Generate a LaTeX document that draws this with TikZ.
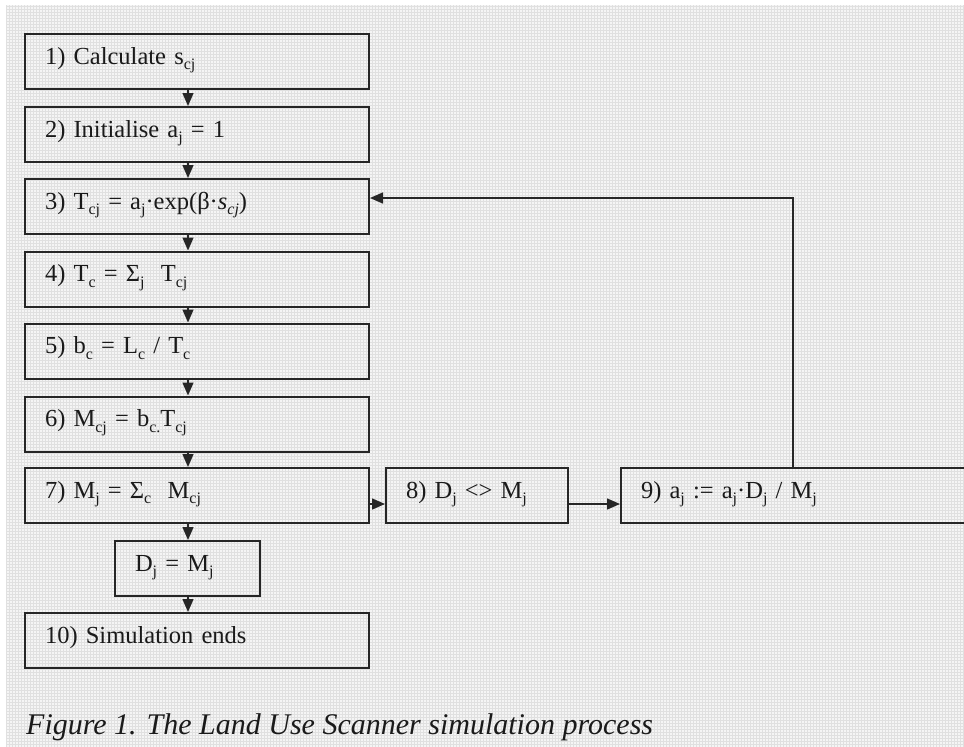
\documentclass[tikz,border=0pt]{standalone}
\usepackage{fontspec}
\setmainfont{Liberation Serif}
\usetikzlibrary{arrows.meta}
\definecolor{ink}{HTML}{262626}
\definecolor{txt}{HTML}{1A1A1A}
\newcommand\subs[1]{\raisebox{-0.24em}{\fontsize{16pt}{16pt}\selectfont #1}}
\begin{document}
\begin{tikzpicture}[x=1pt,y=-1pt,
  box/.style={draw=ink, line width=2pt, minimum height=55pt, inner xsep=20pt, inner ysep=0pt,
    text height=0.75em, text depth=0.23em, align=left, text=txt,
    font=\fontsize{24.5pt}{24.5pt}\selectfont},
  arr/.style={draw=ink, line width=1.5pt, -{Triangle[length=13pt,width=11pt]}}]
\useasboundingbox (0,0) rectangle (964,747);
\clip (0,0) rectangle (964,747);
\fill[white] (0,0) rectangle (964,747);
\fill[gray!8] (6,5) rectangle (964,747);
\draw[gray!24, line width=0.5pt, step=3pt] (6,5) grid (964,747);
\node[box, text width=304pt] (b1) at (197,61.5) {1) Calculate s\subs{cj}};
\node[box, text width=304pt] (b2) at (197,134.5) {2) Initialise a\subs{j} = 1};
\node[box, text width=304pt] (b3) at (197,206.5) {3) T\subs{cj} = a\subs{j}·exp(β·\textit{s\subs{cj}})};
\node[box, text width=304pt] (b4) at (197,279) {4) T\subs{c} = Σ\subs{j}\ \ T\subs{cj}};
\node[box, text width=304pt] (b5) at (197,351) {5) b\subs{c} = L\subs{c} / T\subs{c}};
\node[box, text width=304pt] (b6) at (197,424) {6) M\subs{cj} = b\subs{c.}T\subs{cj}};
\node[box, text width=304pt] (b7) at (197,495.5) {7) M\subs{j} = Σ\subs{c}\ \ M\subs{cj}};
\node[box, text width=105pt] (bd) at (187.5,568.5) {D\subs{j} = M\subs{j}};
\node[box, text width=304pt] (b10) at (197,640.5) {10) Simulation ends};
\node[box, text width=142pt] (b8) at (477,495.5) {8) D\subs{j} <> M\subs{j}};
\node[box, text width=339pt] (b9) at (810.5,495.5) {9) a\subs{j} := a\subs{j}·D\subs{j} / M\subs{j}};
\coordinate (ax) at (188,0);
\coordinate (h) at (0,504);
\coordinate (fb) at (793,198);
\draw[arr] (b1.south -| ax) -- (b2.north -| ax);
\draw[arr] (b2.south -| ax) -- (b3.north -| ax);
\draw[arr] (b3.south -| ax) -- (b4.north -| ax);
\draw[arr] (b4.south -| ax) -- (b5.north -| ax);
\draw[arr] (b5.south -| ax) -- (b6.north -| ax);
\draw[arr] (b6.south -| ax) -- (b7.north -| ax);
\draw[arr] (b7.south -| ax) -- (bd.north -| ax);
\draw[arr] (bd.south -| ax) -- (b10.north -| ax);
\draw[arr] (b7.east |- h) -- (b8.west |- h);
\draw[arr] (b8.east |- h) -- (b9.west |- h);
\draw[arr] (b9.north -| fb) |- (b3.east |- fb);
\node[anchor=base west, inner sep=0pt, text=txt, font=\itshape\fontsize{30pt}{30pt}\selectfont] (cap) at (26,734) {Figure 1. The Land Use Scanner simulation process};
\end{tikzpicture}
\end{document}
